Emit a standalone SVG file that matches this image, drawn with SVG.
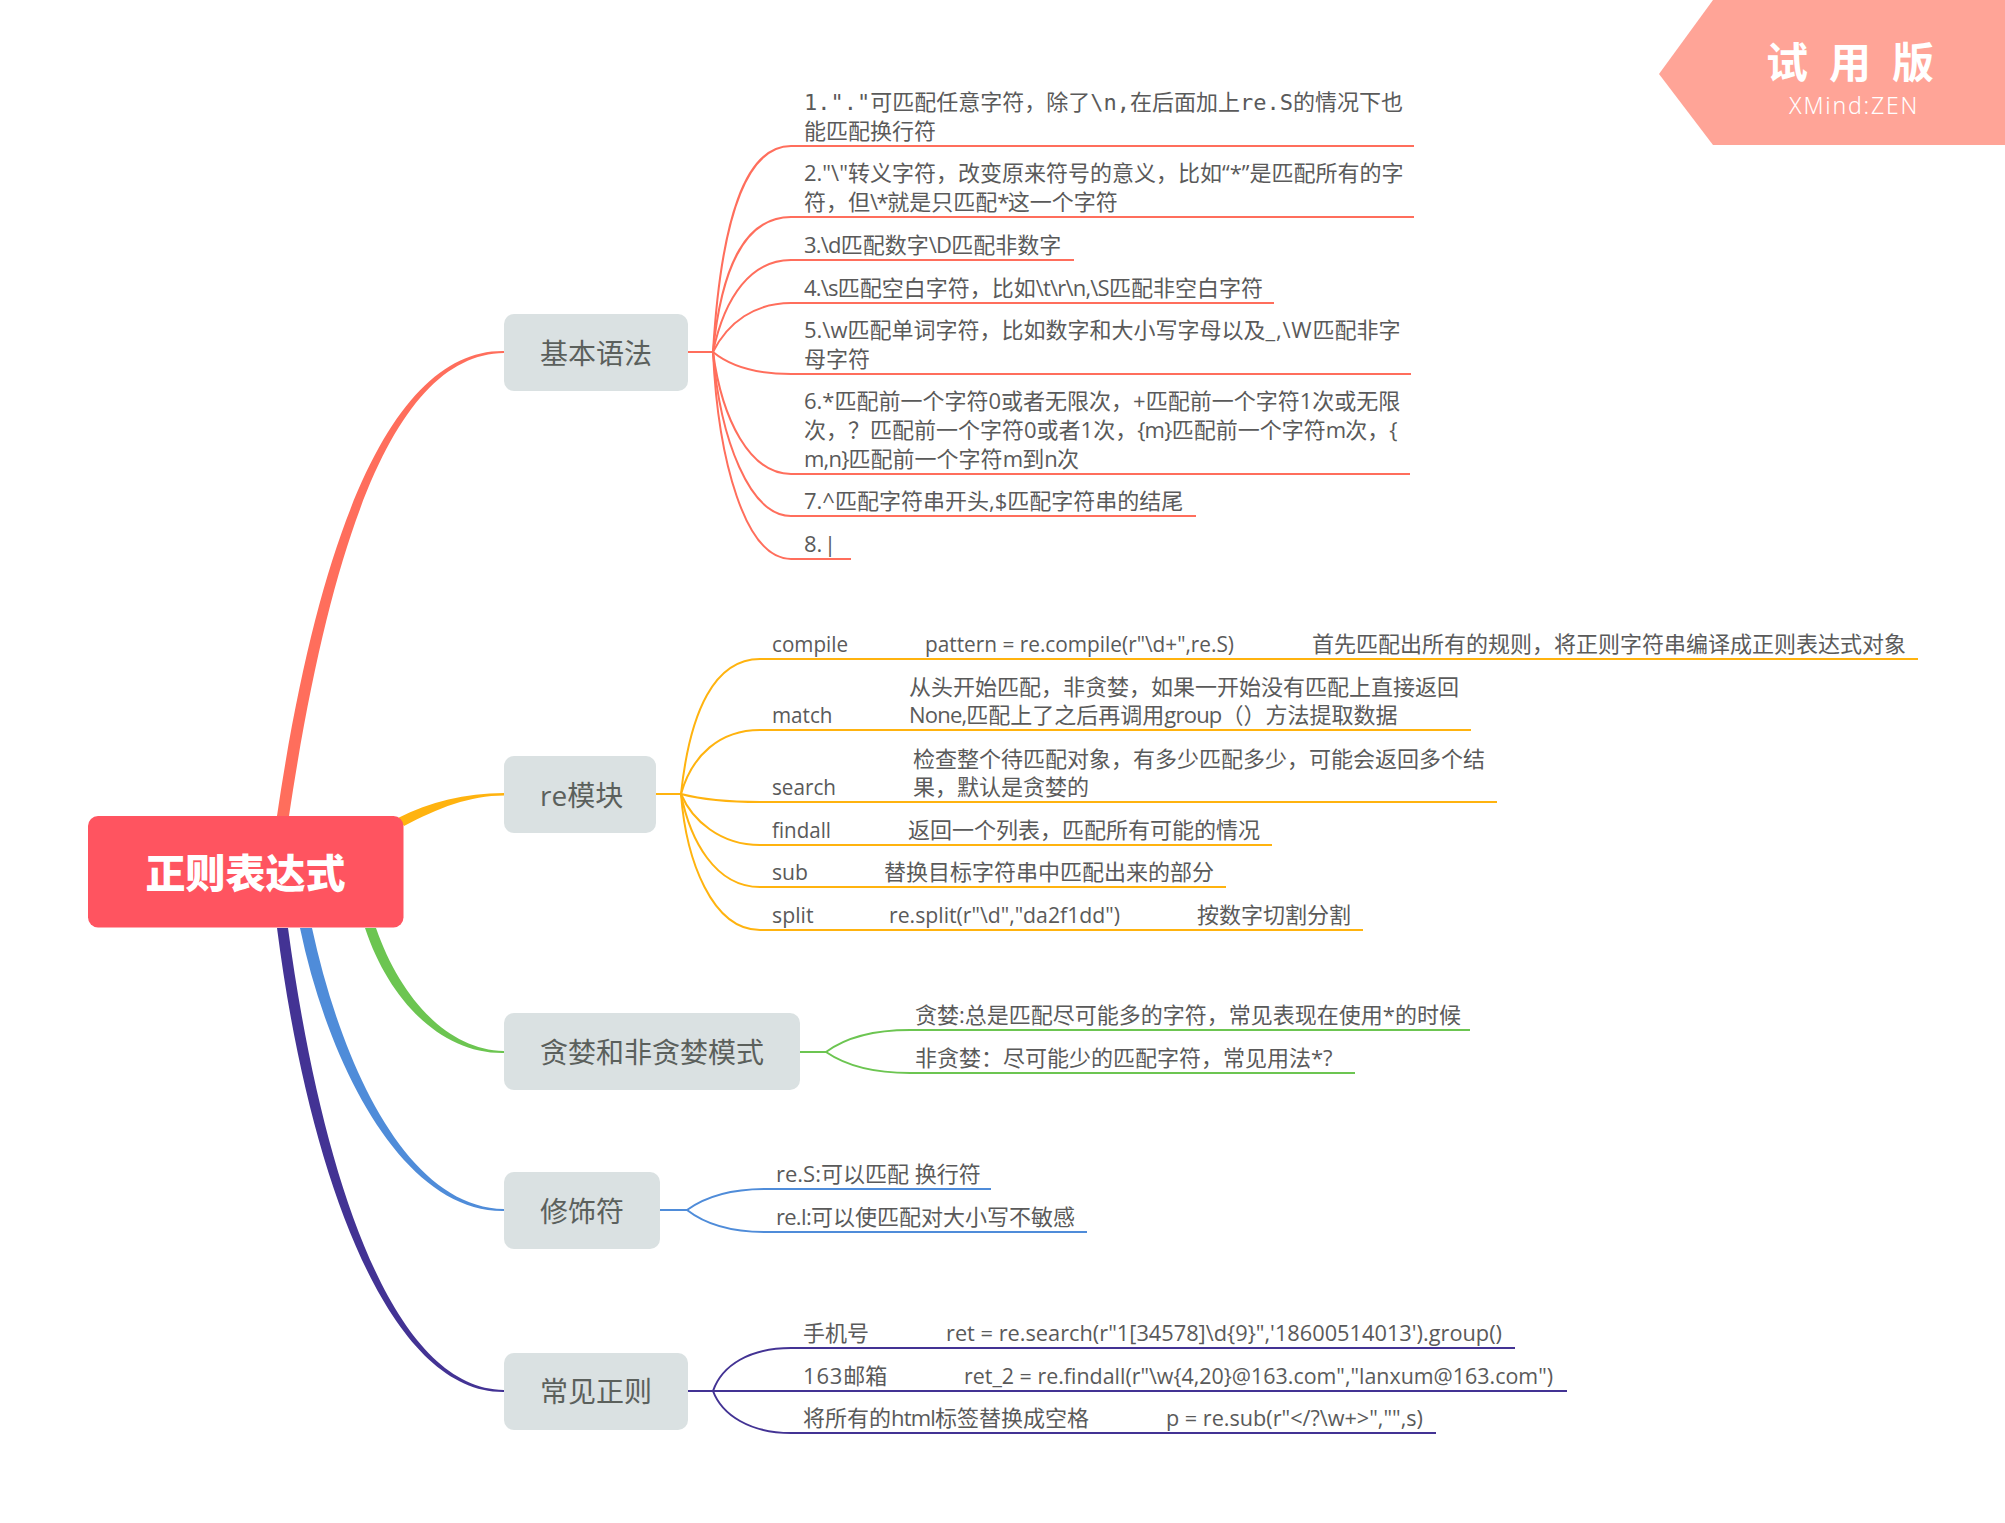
<svg xmlns="http://www.w3.org/2000/svg" width="2005" height="1523" viewBox="0 0 2005 1523">
<style>
text{font-family:"Open Sans","Noto Sans CJK SC","Noto Sans",sans-serif;font-size:22px;fill:#5a5a5a;text-spacing-trim:space-all}
.mono{font-family:"DejaVu Sans Mono","Noto Sans CJK SC",monospace}
.t{font-size:28px;fill:#5b605c}
.n{fill:#dae1e2}
.l{fill:none;stroke-width:2}
.r{stroke:#ff6e5c}.y{stroke:#ffb30f}.g{stroke:#6cc551}.b{stroke:#4f8cd9}.p{stroke:#433394}
.c{letter-spacing:-.8px}
.d{letter-spacing:.8px}
</style>
<rect width="2005" height="1523" fill="#fff"/>
<g id="connectors">
<path fill="#ff6e5c" d="M277 816C324 497.500 404 349.500 504 351V353C406 354.500 336 502.500 289 816Z"/>
<path fill="#ffb30f" d="M398 818C430 802 465 793 504 793V795.500C470 795.500 438 808 404 826Z"/>
<path fill="#6cc551" d="M365 928C390 1003 443 1054 504 1053V1051C447 1050 400 997 376 928Z"/>
<path fill="#4f8cd9" d="M300 928C329 1067.500 404 1212.500 504 1211V1209C406 1207.500 341 1062.500 312 928Z"/>
<path fill="#433394" d="M277 928C309 1177.500 389 1393.500 504 1392V1390C391 1388.500 321 1172.500 288 928Z"/>
<g class="l r">
<path d="M688 352H713"/>
<path d="M713 352C721 220 745 146 791 146H1414"/>
<path d="M713 352C722 260 748 217 791 217H1414"/>
<path d="M713 352C725 295 752 260 791 260H1074"/>
<path d="M713 352C728 322 755 303 791 303H1274"/>
<path d="M713 352C730 366 755 374 791 374H1411"/>
<path d="M713 352C722 420 750 474 791 474H1410"/>
<path d="M713 352C720 440 750 516 791 516H1196"/>
<path d="M713 352C718 460 745 559 791 559H851"/>
</g>
<g class="l y">
<path d="M656 794H681"/>
<path d="M681 794C690 710 715 659 760 659H1918"/>
<path d="M681 794C692 755 720 730 760 730H1471"/>
<path d="M681 794C700 799 725 802 760 802H1497"/>
<path d="M681 794C692 820 720 845 760 845H1272"/>
<path d="M681 794C690 840 715 887 760 887H1226"/>
<path d="M681 794C686 860 712 930 760 930H1363"/>
</g>
<g class="l g">
<path d="M800 1052H826"/>
<path d="M826 1052C845 1038 870 1030 910 1030H1470"/>
<path d="M826 1052C845 1065 870 1073 910 1073H1355"/>
</g>
<g class="l b">
<path d="M660 1210H687"/>
<path d="M687 1210C705 1197 730 1189 765 1189H991"/>
<path d="M687 1210C705 1224 730 1232 765 1232H1087"/>
</g>
<g class="l p">
<path d="M688 1391H713"/>
<path d="M713 1391C722 1365 750 1348 791 1348H1515"/>
<path d="M713 1391H1567"/>
<path d="M713 1391C722 1415 750 1433 791 1433H1436"/>
</g>
</g>
<g id="root"><rect x="88" y="816" width="315.500" height="111.500" rx="10" fill="#ff5460"/><text x="245.500" y="888" text-anchor="middle" font-weight="900" style="font-size:40px;fill:#fff">正则表达式</text></g>
<g id="n1"><rect class="n" x="504" y="314" width="184" height="77" rx="10"/><text class="t" x="540" y="364">基本语法</text></g>
<g id="n2"><rect class="n" x="504" y="756" width="152" height="77" rx="10"/><text class="t" x="540" y="806">re模块</text></g>
<g id="n3"><rect class="n" x="504" y="1013" width="296" height="77" rx="10"/><text class="t" x="540" y="1063">贪婪和非贪婪模式</text></g>
<g id="n4"><rect class="n" x="504" y="1172" width="156" height="77" rx="10"/><text class="t" x="540" y="1222">修饰符</text></g>
<g id="n5"><rect class="n" x="504" y="1353" width="184" height="77" rx="10"/><text class="t" x="540" y="1402">常见正则</text></g>
<g id="l1">
<text class="mono" x="804" y="110">1."."可匹配任意字符，除了\n,在后面加上re.S的情况下也</text>
<text x="804" y="139">能匹配换行符</text>
<text x="804" y="181">2."\"转义字符，改变原来符号的意义，比如“*”是匹配所有的字</text>
<text x="804" y="210">符，但<tspan style="letter-spacing:-1.500px">\*</tspan>就是只匹配<tspan style="letter-spacing:-1.500px">*</tspan>这一个字符</text>
<text x="804" y="253"><tspan class="c">3.\d</tspan>匹配数字<tspan class="c">\D</tspan>匹配非数字</text>
<text x="804" y="296"><tspan class="c">4.\s</tspan>匹配空白字符，比如<tspan class="c">\t\r\n,\S</tspan>匹配非空白字符</text>
<text x="804" y="338">5.\w匹配单词字符，比如数字和大小写字母以及<tspan class="d">_,\W</tspan>匹配非字</text>
<text x="804" y="367">母字符</text>
<text x="804" y="409">6.*匹配前一个字符0或者无限次，+匹配前一个字符1次或无限</text>
<text x="804" y="438">次，？匹配前一个字符0或者1次，<tspan class="c">{m}</tspan>匹配前一个字符<tspan class="c">m</tspan>次，{</text>
<text x="804" y="467"><tspan class="c">m,n}</tspan>匹配前一个字符<tspan class="c">m</tspan>到<tspan class="c">n</tspan>次</text>
<text x="804" y="509">7.^匹配字符串开头,$匹配字符串的结尾</text>
<text x="804" y="552" word-spacing="-4">8. |</text>
</g>
<g id="l2">
<text x="772" y="652" textLength="76" lengthAdjust="spacingAndGlyphs">compile</text><text x="925" y="652" textLength="309" lengthAdjust="spacingAndGlyphs">pattern = re.compile(r"\d+",re.S)</text><text x="1312" y="652">首先匹配出所有的规则，将正则字符串编译成正则表达式对象</text>
<text x="909" y="695">从头开始匹配，非贪婪，如果一开始没有匹配上直接返回</text>
<text x="772" y="723" textLength="60.500" lengthAdjust="spacingAndGlyphs">match</text><text x="909" y="723"><tspan class="c">None,</tspan>匹配上了之后再调用<tspan class="c">group</tspan>（）方法提取数据</text>
<text x="913" y="767">检查整个待匹配对象，有多少匹配多少，可能会返回多个结</text>
<text x="772" y="795" textLength="64" lengthAdjust="spacingAndGlyphs">search</text><text x="913" y="795">果，默认是贪婪的</text>
<text x="772" y="838" textLength="59" lengthAdjust="spacingAndGlyphs">findall</text><text x="908" y="838">返回一个列表，匹配所有可能的情况</text>
<text x="772" y="880" textLength="36" lengthAdjust="spacingAndGlyphs">sub</text><text x="884" y="880">替换目标字符串中匹配出来的部分</text>
<text x="772" y="923" textLength="41.500" lengthAdjust="spacingAndGlyphs">split</text><text x="889" y="923" textLength="231" lengthAdjust="spacingAndGlyphs">re.split(r"\d","da2f1dd")</text><text x="1197" y="923">按数字切割分割</text>
</g>
<g id="l3">
<text x="915" y="1023">贪婪:总是匹配尽可能多的字符，常见表现在使用*的时候</text>
<text x="915" y="1066">非贪婪：尽可能少的匹配字符，常见用法*?</text>
</g>
<g id="l4">
<text x="776" y="1182">re.S:可以匹配 换行符</text>
<text x="776" y="1225"><tspan class="c">re.I:</tspan>可以使匹配对大小写不敏感</text>
</g>
<g id="l5">
<text x="803" y="1341">手机号</text><text x="946" y="1341" textLength="556" lengthAdjust="spacingAndGlyphs">ret = re.search(r"1[34578]\d{9}",'18600514013').group()</text>
<text x="803" y="1384"><tspan class="d">163</tspan>邮箱</text><text x="964" y="1384" textLength="589" lengthAdjust="spacingAndGlyphs">ret_2 = re.findall(r"\w{4,20}@163.com","lanxum@163.com")</text>
<text x="803" y="1426">将所有的<tspan class="c">html</tspan>标签替换成空格</text><text x="1166" y="1426" textLength="257" lengthAdjust="spacingAndGlyphs">p = re.sub(r"&lt;/?\w+&gt;","",s)</text>
</g>
<g id="watermark">
<polygon points="1659,74 1713,0 2005,0 2005,145 1713,145" fill="#ffa497"/>
<text x="1766" y="78" font-weight="700" style="font-size:42px;fill:#fff;letter-spacing:21px">试用版</text>
<text x="1789" y="114" style="font-size:23px;fill:#fff;font-family:'Noto Sans',sans-serif;font-weight:300;letter-spacing:1.800px">XMind:ZEN</text>
</g>
</svg>
